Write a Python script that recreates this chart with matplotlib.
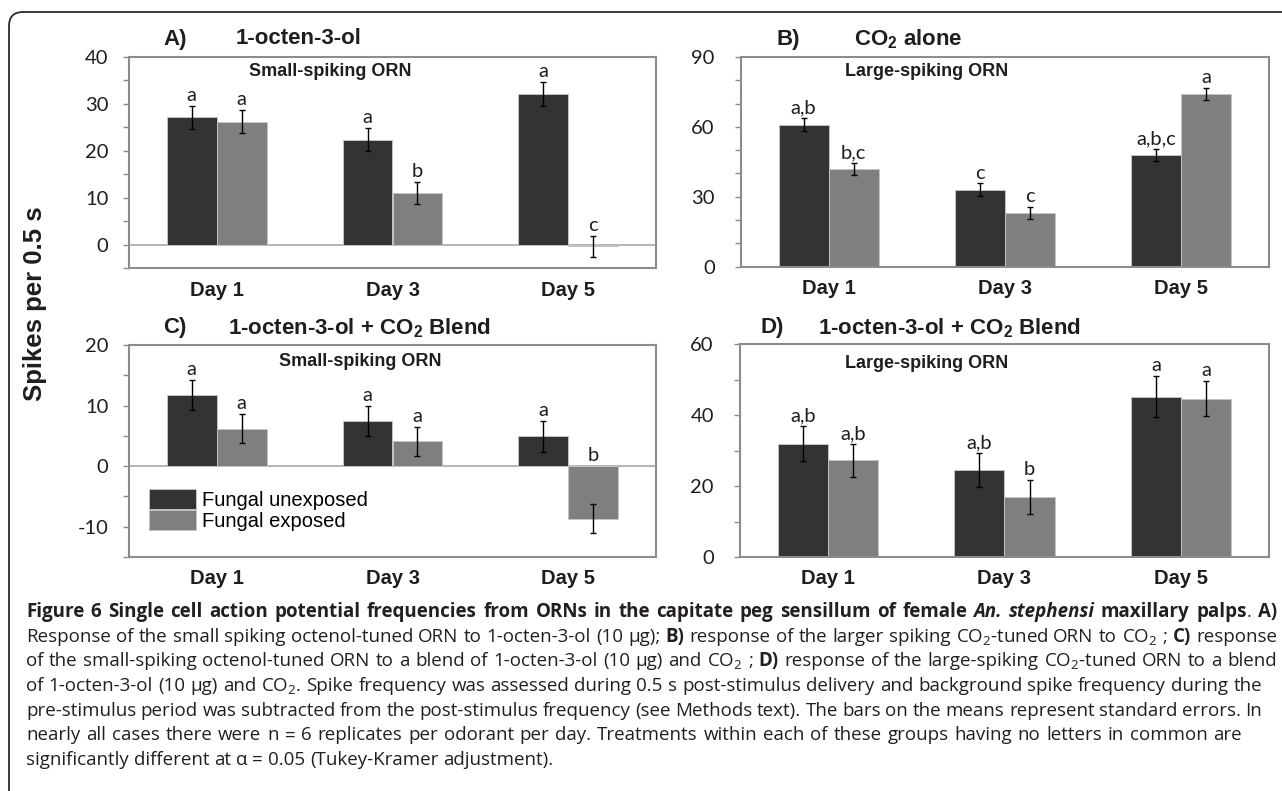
import re
import numpy as np
import matplotlib
matplotlib.use('Agg')
import matplotlib.pyplot as plt
from matplotlib.patches import FancyBboxPatch
from matplotlib.ticker import MultipleLocator

W, H = 1282, 791

days = ['Day 1', 'Day 3', 'Day 5']
groups = ['Fungal unexposed', 'Fungal exposed']

# A) 1-octen-3-ol, small-spiking ORN
a_unexp = [27.1, 22.4, 32.1]
a_exp = [26.2, 11.0, -0.4]
a_unexp_se = [2.4, 2.4, 2.5]
a_exp_se = [2.5, 2.4, 2.3]
a_letters_unexp = ['a', 'a', 'a']
a_letters_exp = ['a', 'b', 'c']

# B) CO2 alone, large-spiking ORN
b_unexp = [61.0, 33.0, 47.8]
b_exp = [41.8, 23.0, 74.1]
b_unexp_se = [2.7, 2.7, 2.6]
b_exp_se = [2.7, 2.7, 2.7]
b_letters_unexp = ['a,b', 'c', 'a,b,c']
b_letters_exp = ['b,c', 'c', 'a']

# C) 1-octen-3-ol + CO2 blend, small-spiking ORN
c_unexp = [11.7, 7.5, 4.9]
c_exp = [6.2, 4.1, -8.7]
c_unexp_se = [2.5, 2.5, 2.5]
c_exp_se = [2.4, 2.4, 2.4]
c_letters_unexp = ['a', 'a', 'a']
c_letters_exp = ['a', 'a', 'b']

# D) 1-octen-3-ol + CO2 blend, large-spiking ORN
d_unexp = [31.9, 24.4, 45.2]
d_exp = [27.2, 16.9, 44.6]
d_unexp_se = [4.9, 4.8, 5.8]
d_exp_se = [4.7, 4.8, 4.9]
d_letters_unexp = ['a,b', 'a,b', 'a']
d_letters_exp = ['a,b', 'b', 'a']

caption = [
    '**Figure 6 Single cell action potential frequencies from ORNs in the capitate peg sensillum of female __An. stephensi__ maxillary palps**. **A)**',
    'Response of the small spiking octenol-tuned ORN to 1-octen-3-ol (10 μg); **B)** response of the larger spiking CO$_2$-tuned ORN to CO$_2$ ; **C)** response',
    'of the small-spiking octenol-tuned ORN to a blend of 1-octen-3-ol (10 μg) and CO$_2$ ; **D)** response of the large-spiking CO$_2$-tuned ORN to a blend',
    'of 1-octen-3-ol (10 μg) and CO$_2$. Spike frequency was assessed during 0.5 s post-stimulus delivery and background spike frequency during the',
    'pre-stimulus period was subtracted from the post-stimulus frequency (see Methods text). The bars on the means represent standard errors. In',
    'nearly all cases there were n = 6 replicates per odorant per day. Treatments within each of these groups having no letters in common are',
    'significantly different at α = 0.05 (Tukey-Kramer adjustment).',
]
caption_right = [1277, 1277, 1277, 1262, 1262, 1242, None]

DARK = '#333333'
GRAY = '#7f7f7f'
EDGE = '#c4c4c4'
BOX = '#8c8c8c'
INK = '#1e1e1e'
ARIAL = 'Liberation Sans'
NUMS = 'Lato'
CAPF = 'Open Sans'

plt.rcParams['axes.unicode_minus'] = False
plt.rcParams['mathtext.fontset'] = 'custom'
plt.rcParams['mathtext.rm'] = 'Open Sans'
plt.rcParams['mathtext.it'] = 'Open Sans:italic'
plt.rcParams['mathtext.bf'] = 'Liberation Sans:bold'

fig = plt.figure(figsize=(W / 100, H / 100), dpi=100)

# background axes in pixel coordinates for frame, titles and caption
bg = fig.add_axes([0, 0, 1, 1])
bg.set_xlim(0, W)
bg.set_ylim(H, 0)
bg.axis('off')
bg.add_patch(FancyBboxPatch((9, 12), 1400, 900, boxstyle='round,pad=0,rounding_size=14',
                            fc='none', ec='#2a2a2a', lw=1.3))


def rect(l, t, r, b):
    return [l / W, 1 - b / H, (r - l) / W, (b - t) / H]


def panel(pos, unexp, exp, se_u, se_e, lu, le, ylim, major, minor, pad):
    ax = fig.add_axes(rect(*pos))
    ax.set_facecolor('white')
    x = np.arange(len(days))
    w = 0.284
    ekw = dict(ecolor='black', elinewidth=1, capsize=2, capthick=1)
    b1 = ax.bar(x - w / 2, unexp, w, color=DARK, edgecolor=EDGE, lw=0.7, yerr=se_u,
                error_kw=ekw, label=groups[0], zorder=2)
    b2 = ax.bar(x + w / 2, exp, w, color=GRAY, edgecolor=EDGE, lw=0.7, yerr=se_e,
                error_kw=ekw, label=groups[1], zorder=2)
    ax.set_xlim(-0.5, 2.5)
    ax.set_ylim(*ylim)
    if ylim[0] < 0:
        ax.axhline(0, color='#a8a8a8', lw=1.2, zorder=1)
    for xs, vals, ses, labs in [(x - w / 2, unexp, se_u, lu), (x + w / 2, exp, se_e, le)]:
        for xi, v, s, l in zip(xs, vals, ses, labs):
            ax.annotate(l, (xi, max(v + s, 0)), xytext=(0, 3.5), textcoords='offset points',
                        ha='center', va='baseline', fontsize=14.5, family=NUMS, color=INK)
    ax.yaxis.set_major_locator(MultipleLocator(major))
    ax.yaxis.set_minor_locator(MultipleLocator(minor))
    ax.tick_params(axis='y', which='both', direction='out', length=4.5, width=1,
                   color=BOX, labelsize=14.5, pad=pad, labelcolor=INK)
    for t in ax.get_yticklabels():
        t.set_family(NUMS)
    ax.set_xticks(x, days, fontsize=14.5, fontweight='bold', family=ARIAL, color=INK)
    ax.tick_params(axis='x', length=0, pad=9)
    for s in ax.spines.values():
        s.set_color(BOX)
        s.set_linewidth(1.5)
    return ax, b1, b2


axA, _, _ = panel((128.6, 57, 656.4, 268), a_unexp, a_exp, a_unexp_se, a_exp_se,
                  a_letters_unexp, a_letters_exp, (-5, 40), 10, 5, 10)
axB, _, _ = panel((740.5, 57, 1269.4, 266.5), b_unexp, b_exp, b_unexp_se, b_exp_se,
                  b_letters_unexp, b_letters_exp, (0, 90), 30, 10, 14)
axC, c1, c2 = panel((128.6, 345, 656.4, 557), c_unexp, c_exp, c_unexp_se, c_exp_se,
                    c_letters_unexp, c_letters_exp, (-15, 20), 10, 5, 10)
axD, _, _ = panel((739.5, 344, 1269.4, 557), d_unexp, d_exp, d_unexp_se, d_exp_se,
                  d_letters_unexp, d_letters_exp, (0, 60), 20, 10, 14)

# panel titles
tkw = dict(fontsize=16, fontweight='bold', family=ARIAL, color=INK, va='center', ha='left')
bg.text(163, 39, 'A)', **tkw)
bg.text(236, 39, '1-octen-3-ol', **tkw)
bg.text(777, 39, 'B)', **tkw)
bg.text(854, 39, r'CO$_\mathbf{2}$ alone', **tkw)
bg.text(163, 328, 'C)', **tkw)
bg.text(228, 328, r'1-octen-3-ol + CO$_\mathbf{2}$ Blend', **tkw)
bg.text(761, 328, 'D)', **tkw)
bg.text(818, 328, r'1-octen-3-ol + CO$_\mathbf{2}$ Blend', **tkw)

# sub titles inside the plot areas
skw = dict(fontsize=13, fontweight='bold', family=ARIAL, color=INK, va='center', ha='center',
           transform=bg.transData)
axA.text(330, 72, 'Small-spiking ORN', **skw)
axB.text(927, 72, 'Large-spiking ORN', **skw)
axC.text(360, 362, 'Small-spiking ORN', **skw)
axD.text(927, 363, 'Large-spiking ORN', **skw)

bg.text(35, 304, 'Spikes per 0.5 s', rotation=90, fontsize=18.5, fontweight='bold',
        family=ARIAL, color=INK, ha='center', va='center')

axC.legend(handles=[c1, c2], loc='upper left', bbox_to_anchor=(149 / W, 1 - 489 / H),
           bbox_transform=fig.transFigure, frameon=False, borderpad=0, borderaxespad=0,
           handlelength=2.35, handleheight=1.17, handletextpad=0.26, labelspacing=0,
           prop=dict(family=ARIAL, size=14.5))

# caption, justified word by word
renderer = fig.canvas.get_renderer()


def word_width(p, b, i, size):
    t = bg.text(0, 0, p, fontsize=size, family=CAPF,
                fontweight='bold' if b else 'normal', fontstyle='italic' if i else 'normal')
    wd = t.get_window_extent(renderer).width
    t.remove()
    return wd


def parse(line):
    runs = []
    bold = ital = False
    for tok in re.split(r'(\*\*|__)', line):
        if tok == '**':
            bold = not bold
        elif tok == '__':
            ital = not ital
        elif tok:
            runs.append((tok, bold, ital))
    words = [[]]
    for text, b, i in runs:
        for k, p in enumerate(text.split(' ')):
            if k > 0:
                words.append([])
            if p:
                words[-1].append((p, b, i))
    return [w for w in words if w]


def space_width(size):
    return word_width('a a', False, False, size) - word_width('aa', False, False, size)


# pick the font size so the tightest full line just fits
s0 = 12
fit = []
for line, xr in zip(caption[:3], caption_right[:3]):
    ws = parse(line)
    natural = sum(word_width(p, b, i, s0) for w in ws for p, b, i in w)
    natural += space_width(s0) * (len(ws) - 1)
    fit.append((xr - 26) / natural)
CAP_SIZE = s0 * min(fit) * 0.99
space = space_width(CAP_SIZE)


def caption_line(y, line, x0, x1):
    words = parse(line)
    items = []
    total = 0
    for w in words:
        arts = []
        for p, b, i in w:
            t = bg.text(0, y, p, fontsize=CAP_SIZE, family=CAPF, color='#231f20',
                        fontweight='bold' if b else 'normal',
                        fontstyle='italic' if i else 'normal', va='baseline', ha='left')
            wd = t.get_window_extent(renderer).width
            arts.append((t, wd))
            total += wd
        items.append(arts)
    gap = space if x1 is None else (x1 - x0 - total) / (len(items) - 1)
    xx = x0
    for arts in items:
        for t, wd in arts:
            t.set_x(xx)
            xx += wd
        xx += gap


for k, (line, xr) in enumerate(zip(caption, caption_right)):
    caption_line(617 + k * 24.7, line, 26, xr)

fig.savefig('out.png', dpi=100)
